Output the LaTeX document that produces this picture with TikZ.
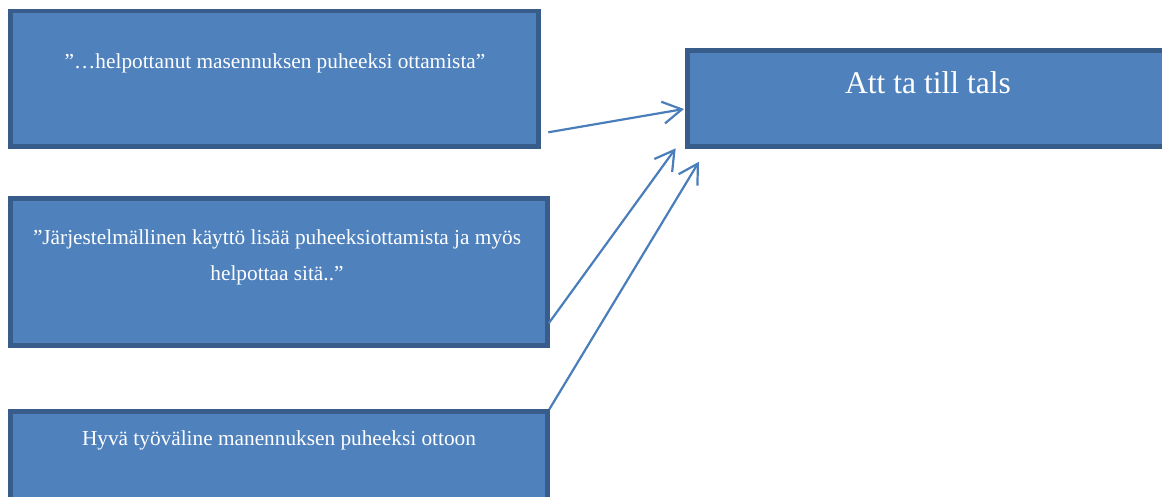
\documentclass[tikz,border=0pt]{standalone}
\usepackage{fontspec}
\setmainfont{Liberation Serif}
\usetikzlibrary{arrows.meta}
\definecolor{boxfill}{HTML}{4F81BD}
\definecolor{boxline}{HTML}{385D8A}
\definecolor{arrowline}{HTML}{4A7EBB}
\tikzset{
  quotebox/.style={draw=boxline, fill=boxfill, line width=4.5pt, outer sep=0pt, inner sep=0pt},
  quote/.style={text=white, font=\fontsize{21.3}{36.6}\selectfont, inner sep=0pt, anchor=base},
  link/.style={draw=arrowline, line width=2.2pt, -{Straight Barb[length=19pt,width=22pt]}},
}
\begin{document}
\begin{tikzpicture}[x=1pt, y=-1pt]
    \useasboundingbox (0,0) rectangle (1162,497);
    \clip (0,0) rectangle (1162,497);
    % quotes
    \node[quotebox, minimum width=528pt, minimum height=135.5pt] (b1) at (274.5,78.75) {};
    \node[quote] (t1) at (275,68.3) {”…helpottanut masennuksen puheeksi ottamista”};
    \node[quotebox, minimum width=537pt, minimum height=147pt] (b2) at (279,272) {};
    \node[quote, align=center, anchor=center] (t2) at (277,257.5) {”Järjestelmällinen käyttö lisää puheeksiottamista ja myös\\helpottaa sitä..”};
    \node[quotebox, minimum width=537pt, minimum height=128.5pt] (b3) at (279,475.75) {};
    \node[quote] (t3) at (279,445) {Hyvä työväline manennuksen puheeksi ottoon};
    % theme
    \node[quotebox, minimum width=481pt, minimum height=96pt] (b4) at (928,98.5) {};
    \node[quote, font=\fontsize{31.6}{38}\selectfont] (t4) at (928,93.7) {Att ta till tals};
    % arrows
    \draw[link] ([shift={(9.8,-14.2)}]b1.south east) -- ([shift={(-3.5,10.5)}]b4.west);
    \draw[link] ([shift={(1.2,-22.2)}]b2.south east) -- ([shift={(-11.8,1.8)}]b4.south west);
    \draw[link] ([shift={(1.8,-2.2)}]b3.north east) -- ([shift={(11.5,15.2)}]b4.south west);
\end{tikzpicture}
\end{document}
